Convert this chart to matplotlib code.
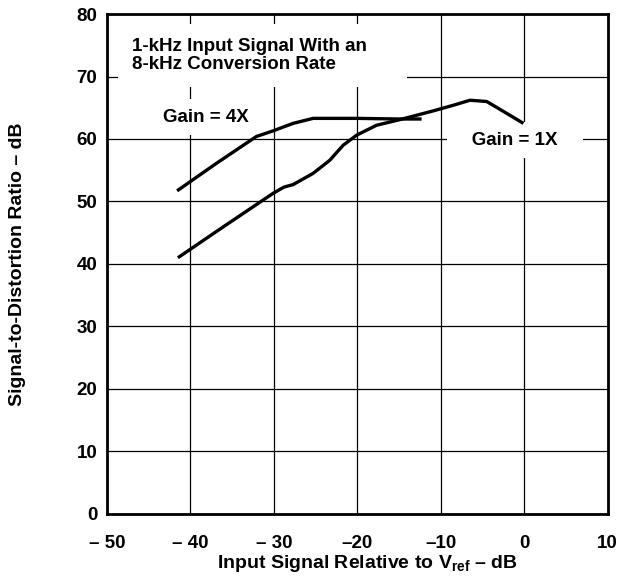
import matplotlib.pyplot as plt

plt.rcParams['font.family'] = ['Liberation Sans', 'DejaVu Sans']
plt.rcParams['font.weight'] = 'bold'
plt.rcParams['mathtext.fontset'] = 'custom'
plt.rcParams['mathtext.rm'] = 'Liberation Sans:bold'
plt.rcParams['mathtext.it'] = 'Liberation Sans:bold'
plt.rcParams['mathtext.bf'] = 'Liberation Sans:bold'

# Gain = 4X curve
gain4_x = [-41.6, -37.0, -32.1, -30.1, -27.7, -25.3, -20.0, -15.0, -12.3]
gain4_y = [51.7, 56.0, 60.4, 61.3, 62.5, 63.3, 63.3, 63.2, 63.2]

# Gain = 1X curve
gain1_x = [-41.5, -36.0, -30.1, -28.8, -27.7, -25.3, -23.3, -21.7, -20.1,
           -17.7, -14.9, -10.9, -8.5, -6.5, -4.5, -3.1, -0.1]
gain1_y = [41.0, 46.0, 51.3, 52.3, 52.7, 54.5, 56.6, 59.0, 60.6,
           62.2, 63.1, 64.5, 65.4, 66.2, 66.0, 64.9, 62.5]

x_ticks = [-50, -40, -30, -20, -10, 0, 10]
x_labels = ['\u2013 50', '\u2013 40', '\u2013 30', '\u201320', '\u201310', '0', '10']
y_ticks = [0, 10, 20, 30, 40, 50, 60, 70, 80]

fig = plt.figure(figsize=(6.22, 5.84), dpi=100)
ax = fig.add_axes([0.172, 0.120, 0.805, 0.856])

ax.plot(gain4_x, gain4_y, color='black', lw=2.4, zorder=4, solid_capstyle='butt')
ax.plot(gain1_x, gain1_y, color='black', lw=2.4, zorder=4, solid_capstyle='butt')

ax.set_xlim(-50, 10)
ax.set_ylim(0, 80)
ax.set_xticks(x_ticks)
ax.set_xticklabels(x_labels)
ax.set_yticks(y_ticks)
ax.tick_params(length=0, labelsize=13.5)
ax.tick_params(axis='x', pad=15)
ax.tick_params(axis='y', pad=7)
for lab in ax.get_xticklabels() + ax.get_yticklabels():
    lab.set_fontweight('bold')
ax.grid(True, color='black', lw=0.9)
ax.set_axisbelow(True)
for sp in ax.spines.values():
    sp.set_linewidth(2)

ax.set_xlabel('Input Signal Relative to V$_{\\mathrm{ref}}$ \u2013 dB',
              fontsize=14, fontweight='bold')
ax.xaxis.set_label_coords(0.521, -0.078)
ax.set_ylabel('Signal-to-Distortion Ratio \u2013 dB', fontsize=14,
              fontweight='bold')
ax.yaxis.set_label_coords(-0.162, 0.5)

ax.text(-47.0, 73.4, '1-kHz Input Signal With an     \n8-kHz Conversion Rate',
        fontsize=13.5, fontweight='bold', va='center', ha='left',
        linespacing=1.1, bbox=dict(facecolor='white', edgecolor='none', pad=10),
        zorder=3)
ax.text(-38.2, 63.5, 'Gain = 4X', fontsize=13.5, fontweight='bold',
        va='center', ha='center',
        bbox=dict(facecolor='white', edgecolor='none', pad=7), zorder=3)
ax.text(-1.1, 59.8, '   Gain = 1X   ', fontsize=13.5, fontweight='bold',
        va='center', ha='center',
        bbox=dict(facecolor='white', edgecolor='none', pad=7), zorder=3)

fig.savefig('out.png', dpi=100)
